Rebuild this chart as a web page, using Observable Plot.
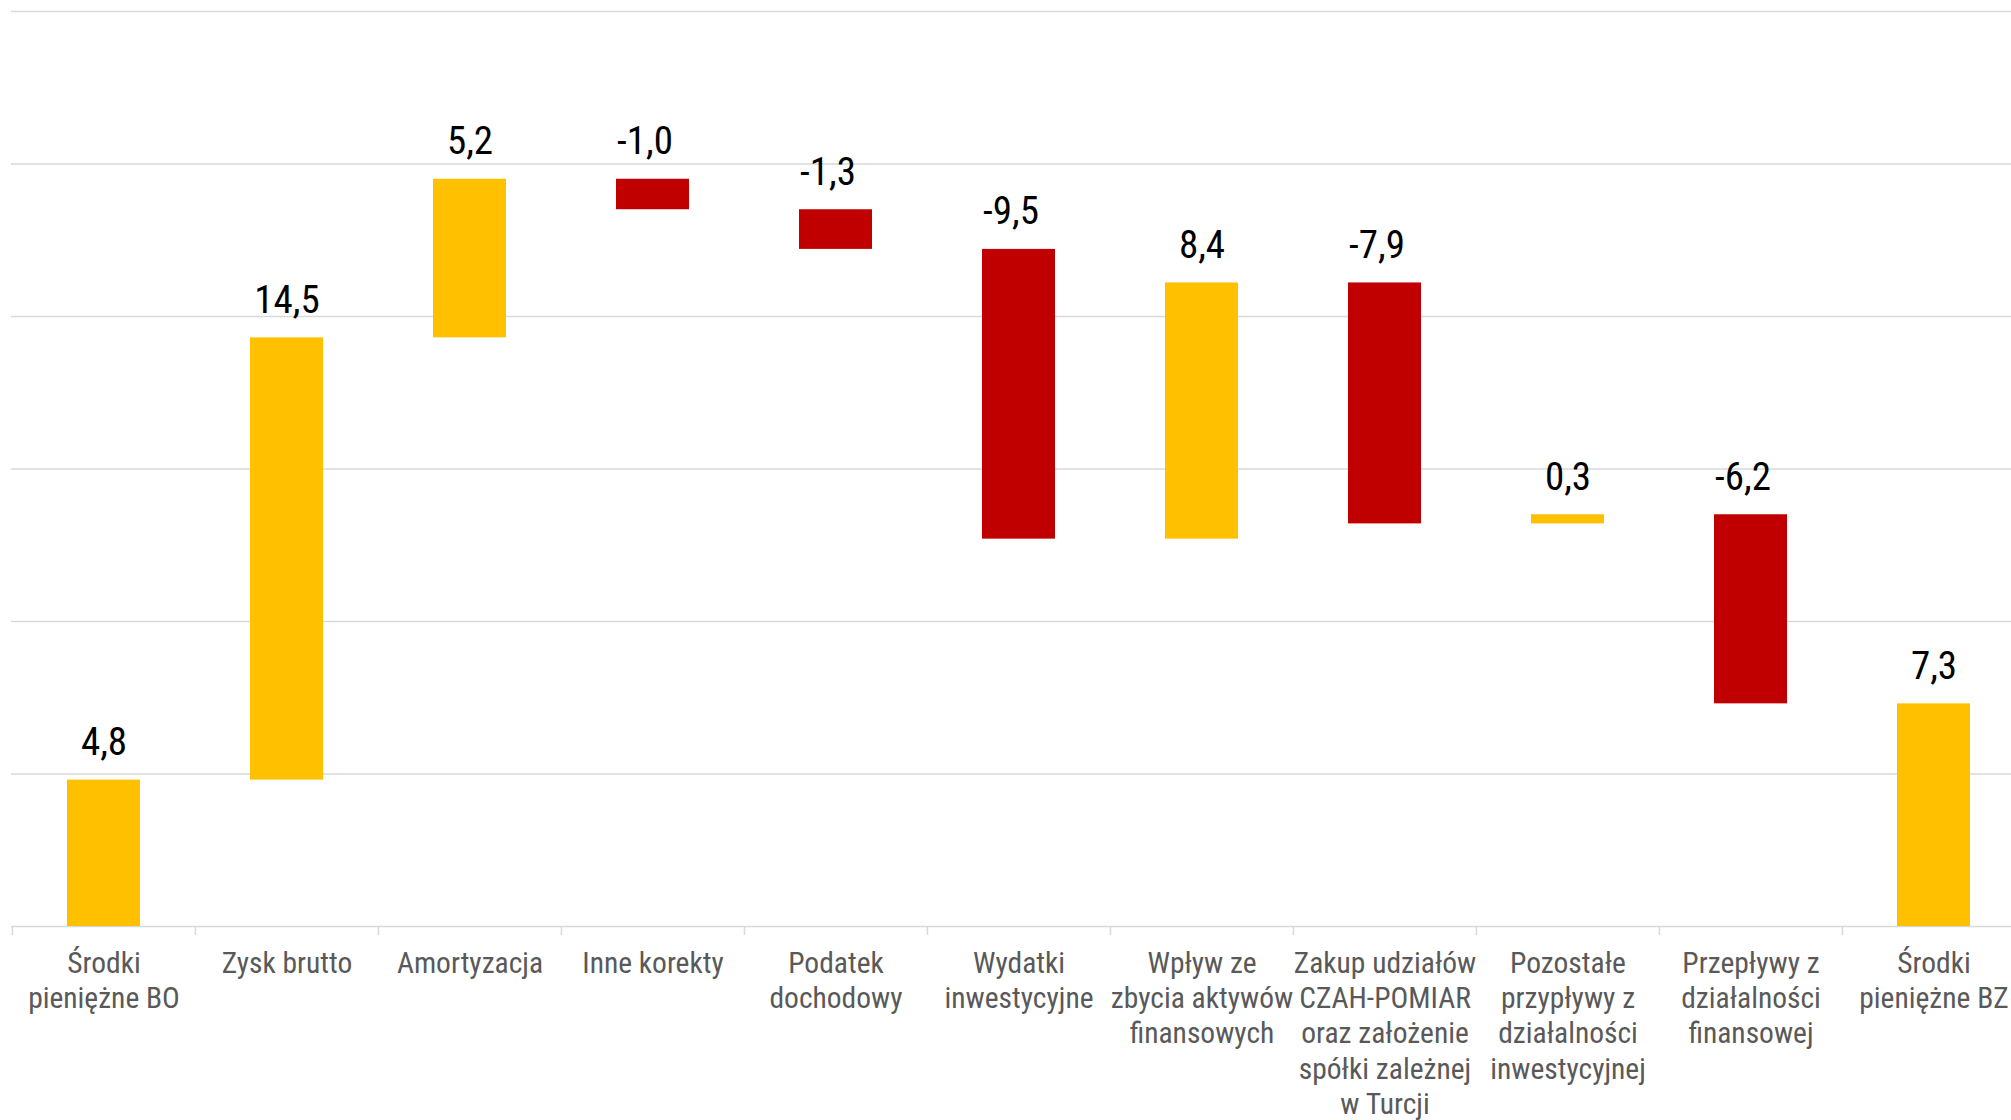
<!DOCTYPE html>
<html><head><meta charset="utf-8">
<script src="https://cdn.jsdelivr.net/npm/d3@7"></script>
<script src="https://cdn.jsdelivr.net/npm/@observablehq/plot@0.6"></script>
<style>body{margin:0;background:#fff;overflow:hidden}</style>
</head><body><div id="chart"></div>
<script>
const categories = [
  "Środki\npieniężne BO",
  "Zysk brutto",
  "Amortyzacja",
  "Inne korekty",
  "Podatek\ndochodowy",
  "Wydatki\ninwestycyjne",
  "Wpływ ze\nzbycia aktywów\nfinansowych",
  "Zakup udziałów\nCZAH-POMIAR\noraz założenie\nspółki zależnej\nw Turcji",
  "Pozostałe\nprzypływy z\ndziałalności\ninwestycyjnej",
  "Przepływy z\ndziałalności\nfinansowej",
  "Środki\npieniężne BZ"
];
const values = [4.8, 14.5, 5.2, -1.0, -1.3, -9.5, 8.4, -7.9, 0.3, -6.2, 7.3];
const isTotal = [true, false, false, false, false, false, false, false, false, false, true];
const yTicks = [0, 5, 10, 15, 20, 25, 30];

let running = 0;
const rows = categories.map((c, i) => {
  let start, end;
  if (isTotal[i]) { start = 0; end = values[i]; running = values[i]; }
  else { start = running; end = running + values[i]; running = end; }
  return {category: c, value: values[i], start, end, top: Math.max(start, end),
          kind: isTotal[i] ? "total" : values[i] >= 0 ? "up" : "down"};
});
const fmt = v => v.toFixed(1).replace(".", ",");

const xRange = [11.5, 2026];
const step = (xRange[1] - xRange[0]) / categories.length;
const font = '"Roboto Condensed", "Liberation Sans Narrow", Roboto, sans-serif';

const chart = Plot.plot({
  width: 2011, height: 1120,
  marginTop: 11, marginBottom: 194, marginLeft: 11, marginRight: 0,
  style: {fontFamily: font, background: "#fff", overflow: "visible"},
  x: {domain: categories, range: xRange, paddingInner: 0.6, paddingOuter: 0.3, align: 0.5},
  y: {domain: [0, 30], axis: null},
  color: {domain: ["total", "up", "down"], range: ["#FFC000", "#FFC000", "#C00000"]},
  marks: [
    Plot.gridY(yTicks, {stroke: "#d9d9d9", strokeOpacity: 1, strokeWidth: 1.5}),
    Plot.ruleX(categories, {x: d => d, y1: 0, y2: 0, dx: -step / 2, insetBottom: -9, stroke: "#d9d9d9", strokeWidth: 1.5}),
    Plot.barY(rows, {x: "category", y1: "start", y2: "end", fill: "kind"}),
    Plot.text(rows.filter(d => d.value >= 0), {x: "category", y: "top", text: d => fmt(d.value), dy: -25, lineAnchor: "bottom", fontSize: 39, fill: "#000"}),
    Plot.text(rows.filter(d => d.value < 0), {x: "category", y: "top", text: d => fmt(d.value), dx: -8, dy: -25, lineAnchor: "bottom", fontSize: 39, fill: "#000"}),
    Plot.axisX({tickSize: 0, tickPadding: 21, fontSize: 29.5, lineHeight: 1.2, fill: "#595959", label: null})
  ]
});
document.getElementById("chart").appendChild(chart);
</script>
</body></html>
